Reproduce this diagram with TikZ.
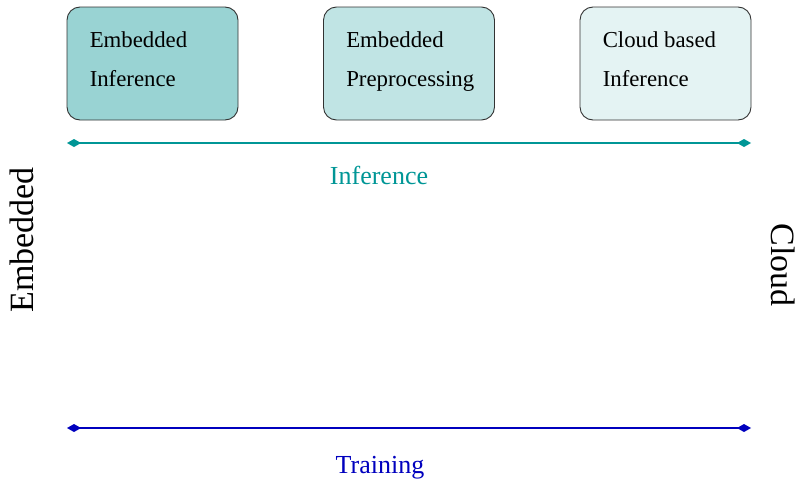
\documentclass[tikz,border=0pt]{standalone}
\usepackage{fontspec}
\setmainfont{Liberation Serif}
\usetikzlibrary{arrows.meta}
\definecolor{boxA}{RGB}{153,211,211}
\definecolor{boxB}{RGB}{192,228,228}
\definecolor{boxC}{RGB}{228,243,243}
\definecolor{infcol}{RGB}{0,150,150}
\definecolor{traincol}{RGB}{0,0,190}
\definecolor{edge}{RGB}{50,50,50}
\tikzset{
  stagebox/.style={draw=edge, line width=0.9pt, rounded corners=13pt,
    minimum width=171pt, minimum height=113pt, inner sep=0pt},
  boxtext/.style={anchor=north west, inner sep=0pt, align=left,
    font=\fontsize{22.8}{39}\selectfont},
  spanline/.style={line width=2pt, {Diamond[length=14pt,width=8pt]}-{Diamond[length=14pt,width=8pt]}},
  spanlabel/.style={inner sep=0pt, font=\fontsize{26}{30}\selectfont},
  sidelabel/.style={inner sep=0pt, font=\fontsize{34}{40}\selectfont}
}
\begin{document}
\begin{tikzpicture}[x=1pt,y=-1pt]
  \useasboundingbox (0,0) rectangle (799,479);
  % stage boxes
  \node[stagebox, fill=boxA] (b1) at (152.5,63.5) {};
  \node[stagebox, fill=boxB] (b2) at (409,63.5) {};
  \node[stagebox, fill=boxC] (b3) at (665.5,63.5) {};
  \node[boxtext] (t1) at ([shift={(23pt,-24.5pt)}]b1.north west) {Embedded\\Inference};
  \node[boxtext] (t2) at ([shift={(23pt,-24.5pt)}]b2.north west) {Embedded\\Preprocessing};
  \node[boxtext] (t3) at ([shift={(23pt,-24.5pt)}]b3.north west) {Cloud based\\Inference};
  % inference span
  \coordinate (i1) at (67,143);
  \coordinate (i2) at (751,143);
  \draw[spanline, infcol] (i1) -- (i2);
  \node[spanlabel, text=infcol] (il) at (379,175) {Inference};
  % training span
  \coordinate (r1) at (67,428);
  \coordinate (r2) at (751,428);
  \draw[spanline, traincol] (r1) -- (r2);
  \node[spanlabel, text=traincol] (rl) at (380,467.5) {Training};
  % side labels
  \node[sidelabel, rotate=90] (le) at (22,240) {Embedded};
  \node[sidelabel, rotate=-90] (lc) at (783,265) {Cloud};
\end{tikzpicture}
\end{document}
